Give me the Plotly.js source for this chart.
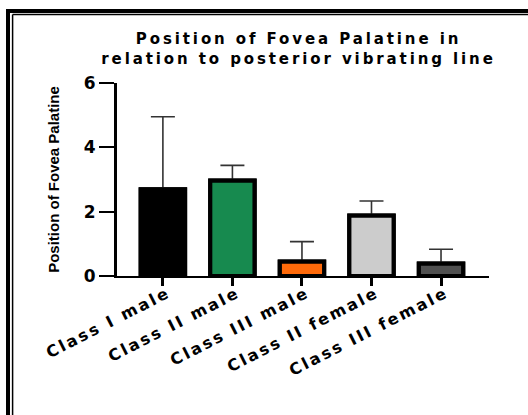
<!DOCTYPE html>
<html>
<head>
<meta charset="utf-8">
<script src="https://cdn.plot.ly/plotly-3.0.1.min.js"></script>
<style>
  html, body { margin: 0; padding: 0; background: #fff; }
  #chart { width: 528px; height: 415px; }
  .gtitle { letter-spacing: 2.9px; }
  .xtick text { letter-spacing: 2.4px; }
</style>
</head>
<body>
<div id="chart"></div>
<script>
// ---- data ----
const categories = ["Class I male", "Class II male", "Class III male", "Class II female", "Class III female"];
const means = [2.70, 2.97, 0.45, 1.88, 0.39];
const sdUpper = [2.25, 0.47, 0.62, 0.45, 0.44];
const yTicks = [0, 2, 4, 6];
const barColors = ["#000000", "#178a4f", "#ff6a0a", "#cccccc", "#505050"];

// ---- layout geometry (pixels) ----
const W = 528, H = 415;
const mL = 117, mR = 39, mT = 83, mB = 139;
const pw = W - mL - mR, ph = H - mT - mB;
const px2x = p => (p - mL) / pw;
const py2y = p => (H - mB - p) / ph;

const borderShapes = [
  {type: "line", xref: "paper", yref: "paper", x0: px2x(6), x1: px2x(530), y0: py2y(11), y1: py2y(11), line: {color: "#000", width: 4}},
  {type: "line", xref: "paper", yref: "paper", x0: px2x(8), x1: px2x(8), y0: py2y(9), y1: py2y(420), line: {color: "#000", width: 4}},
  {type: "line", xref: "paper", yref: "paper", x0: px2x(12.6), x1: px2x(530), y0: py2y(14.6), y1: py2y(14.6), line: {color: "#000", width: 1.5}},
  {type: "line", xref: "paper", yref: "paper", x0: px2x(12.6), x1: px2x(12.6), y0: py2y(14.6), y1: py2y(420), line: {color: "#000", width: 1.5}}
];

// filled bars with upper error bars
const barTrace = {
  type: "bar",
  x: categories,
  y: means,
  width: 0.64,
  marker: {color: barColors, line: {color: "#000", width: 4}},
  error_y: {
    type: "data", symmetric: false, array: sdUpper, arrayminus: means.map(() => 0),
    color: "#333333", thickness: 1.6, width: 12
  },
  hoverinfo: "skip"
};
// outline drawn again on top so the error bar's base cap is hidden
const outlineTrace = {
  type: "bar",
  x: categories,
  y: means,
  width: 0.64,
  marker: {color: "rgba(0,0,0,0)", line: {color: "#000", width: 4}},
  hoverinfo: "skip"
};

const layout = {
  width: W, height: H,
  margin: {l: mL, r: mR, t: mT, b: mB, pad: 0},
  paper_bgcolor: "#ffffff", plot_bgcolor: "#ffffff",
  showlegend: false,
  barmode: "overlay",
  title: {
    text: "Position of Fovea Palatine in<br>relation to posterior vibrating line",
    font: {family: "DejaVu Sans", size: 15, color: "#000", weight: "bold"},
    x: 0.488, xref: "paper", xanchor: "center",
    y: 0.893, yref: "container", yanchor: "top"
  },
  xaxis: {
    type: "category",
    range: [-0.66, 4.69],
    showline: true, linecolor: "#000", linewidth: 2,
    ticks: "outside", ticklen: 8, tickwidth: 3, tickcolor: "#000",
    tickangle: -27,
    ticklabelstandoff: -8,
    ticklabelshift: 5,
    tickfont: {family: "DejaVu Sans", size: 16, color: "#000", weight: "bold"},
    showgrid: false, zeroline: false, fixedrange: true
  },
  yaxis: {
    range: [0, 6],
    tickvals: yTicks, ticktext: yTicks.map(String),
    showline: true, linecolor: "#000", linewidth: 3,
    ticks: "outside", ticklen: 15, tickwidth: 2, tickcolor: "#000",
    tickfont: {family: "DejaVu Sans", size: 17, color: "#000", weight: "bold"},
    showgrid: false, zeroline: false, fixedrange: true,
    title: {
      text: "Position of Fovea Palatine",
      font: {family: "Liberation Sans Narrow, Liberation Sans, Arial", size: 15, color: "#000", weight: "bold"},
      standoff: 21
    }
  },
  shapes: borderShapes
};

Plotly.newPlot("chart", [barTrace, outlineTrace], layout, {displayModeBar: false, staticPlot: true});
</script>
</body>
</html>
